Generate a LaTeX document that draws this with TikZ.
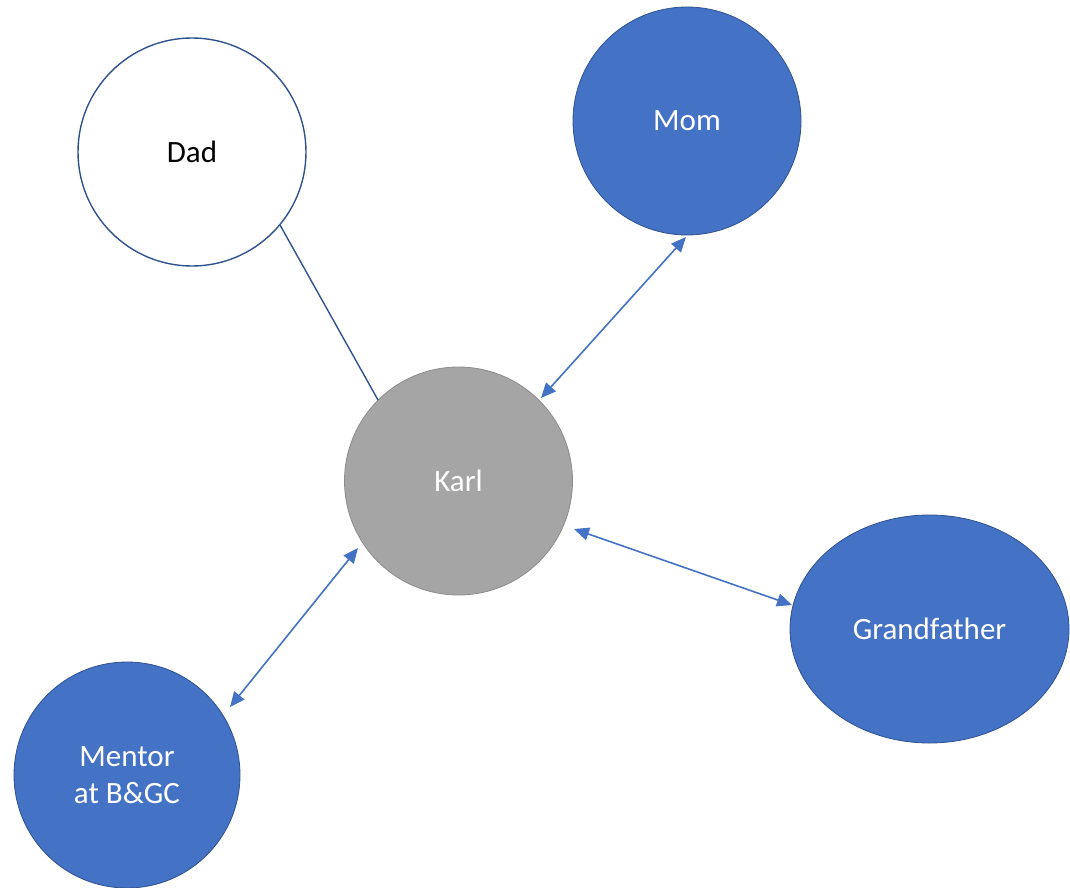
\documentclass[tikz,border=0pt]{standalone}
\usepackage{fontspec}
\setmainfont{Carlito}
\usetikzlibrary{arrows.meta,shapes.geometric}
\definecolor{accent}{HTML}{4472C4}
\definecolor{accentdark}{HTML}{2F528F}
\definecolor{karlgray}{HTML}{A5A5A5}
\definecolor{karlrim}{HTML}{8C8C8C}
\tikzset{
  person/.style={circle, minimum size=228pt, inner sep=0pt, align=center,
    font=\fontsize{31}{37}\selectfont},
  family/.style={person, fill=accent, draw=accentdark, line width=0.8pt, text=white},
  link/.style={draw=accent, line width=1.6pt,
    {Triangle[length=15pt,width=13pt]}-{Triangle[length=15pt,width=13pt]}},
  plainlink/.style={draw=accentdark, line width=1.4pt}
}
\begin{document}
\begin{tikzpicture}[x=1pt,y=-1pt]
  \useasboundingbox (0,0) rectangle (1070,888);
  \node[person, fill=white, draw=accentdark, line width=1.4pt, text=black] (Dad) at (192,152) {Dad};
  \node[family] (Mom) at (687,121) {Mom};
  \node[person, fill=karlgray, draw=karlrim, line width=0.8pt, text=white] (Karl) at (458.5,481) {Karl};
  \node[family, ellipse, minimum width=279pt, minimum height=228pt] (Grand) at (929.5,629) {Grandfather};
  \node[family, minimum size=226pt] (Mentor) at (127,775) {Mentor\\at B\&GC};

  \draw[plainlink] ([shift={(88,73)}]Dad.center) -- ([shift={(-80.5,-81)}]Karl.center);
  \draw[link] ([shift={(-1,116)}]Mom.center) -- ([shift={(82.5,-83)}]Karl.center);
  \draw[link] ([shift={(115.5,48)}]Karl.center) -- ([shift={(-137.5,-24)}]Grand.center);
  \draw[link] ([shift={(-100.5,67)}]Karl.center) -- ([shift={(103,-68)}]Mentor.center);
\end{tikzpicture}
\end{document}
